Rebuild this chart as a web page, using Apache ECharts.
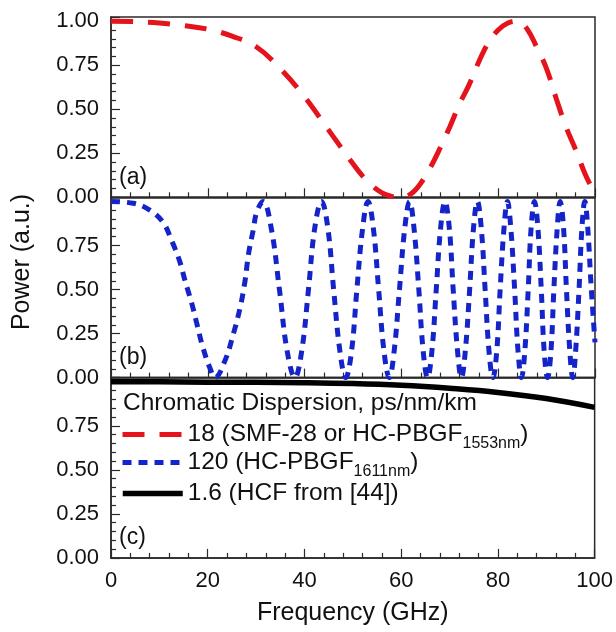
<!DOCTYPE html>
<html><head><meta charset="utf-8">
<script src="https://cdn.jsdelivr.net/npm/echarts@6/dist/echarts.min.js"></script>
<style>html,body{margin:0;padding:0;background:#fff}#c{width:616px;height:632px}</style>
</head><body><div id="c"></div>
<script>
// ---------- data ----------
const xTickValues = [0, 20, 40, 60, 80, 100];
const yTickValues = [0, 0.25, 0.5, 0.75, 1.0];

// (a) D = 18 ps/nm/km
const redFreq  = [0, 5, 10, 15, 20, 25, 30, 35, 40, 45, 50, 52, 54, 56, 58, 60, 62, 64, 66, 68, 70, 72, 74, 76, 78, 80, 82, 84, 86, 88, 90, 92, 94, 96, 98, 100];
const redPower = [1.0, 0.998, 0.99, 0.975, 0.955, 0.915, 0.855, 0.73, 0.57, 0.38, 0.19, 0.12, 0.065, 0.025, 0.005, 0.0, 0.02, 0.08, 0.17, 0.28, 0.40, 0.53, 0.64, 0.77, 0.88, 0.95, 0.99, 1.0, 0.955, 0.85, 0.73, 0.56, 0.40, 0.27, 0.13, 0.02];

// (b) D = 120 ps/nm/km
const blueFreq = [0, 4.6, 8.1, 10.8, 12.5, 14.2, 15.3, 16.7, 17.7, 19.0, 20.5, 21.5,
  23.6, 25.3, 26.7, 27.7, 28.4, 29.4, 30.1, 31.4,
  33.1, 34.8, 36.4, 38.0, 39.4, 40.8, 42.1, 43.5,
  44.8, 46.0, 47.3, 48.5, 49.7, 50.8, 52.0, 53.1,
  54.2, 55.3, 56.4, 57.5, 58.5, 59.6, 60.7, 61.7,
  62.6, 63.6, 64.5, 65.4, 66.3, 67.2, 68.1, 69.0,
  69.9, 70.7, 71.6, 72.4, 73.2, 74.1, 74.9, 75.7,
  76.5, 77.3, 78.1, 78.9, 79.7, 80.4, 81.2, 81.9,
  82.6, 83.4, 84.1, 84.8, 85.5, 86.2, 86.8, 87.5,
  88.2, 88.9, 89.5, 90.2, 90.9, 91.5, 92.2, 92.8,
  93.5, 94.1, 94.8, 95.4, 96.0, 96.7, 97.3, 97.9,
  98.5, 99.2, 100];
const bluePower = [1.0, 0.99, 0.95, 0.88, 0.78, 0.66, 0.55, 0.42, 0.31, 0.17, 0.05, 0.0,
  0.10, 0.25, 0.40, 0.55, 0.70, 0.84, 0.94, 1.0,
  0.85, 0.5, 0.15, 0.0, 0.15, 0.5, 0.85, 1.0,
  0.85, 0.5, 0.15, 0.0, 0.15, 0.5, 0.85, 1.0,
  0.85, 0.5, 0.15, 0.0, 0.15, 0.5, 0.85, 1.0,
  0.85, 0.5, 0.15, 0.0, 0.15, 0.5, 0.85, 1.0,
  0.85, 0.5, 0.15, 0.0, 0.15, 0.5, 0.85, 1.0,
  0.85, 0.5, 0.15, 0.0, 0.15, 0.5, 0.85, 1.0,
  0.85, 0.5, 0.15, 0.0, 0.15, 0.5, 0.85, 1.0,
  0.85, 0.5, 0.15, 0.0, 0.15, 0.5, 0.85, 1.0,
  0.85, 0.5, 0.15, 0.0, 0.15, 0.5, 0.85, 1.0,
  0.85, 0.52, 0.2];

// (c) D = 1.6 ps/nm/km
const blackFreq  = [0, 10, 20, 30, 40, 50, 60, 70, 80, 90, 100];
const blackPower = [1.0, 0.9999, 0.998, 0.997, 0.995, 0.99, 0.98, 0.963, 0.94, 0.905, 0.855];

const seriesNames = ['18 (SMF-28 or HC-PBGF1553nm)', '120 (HC-PBGF1611nm)', '1.6 (HCF from [44])'];
const legendRich = {
  '18 (SMF-28 or HC-PBGF1553nm)': '{m|18 (SMF-28 or HC-PBGF}{s|1553nm}{m|)}',
  '120 (HC-PBGF1611nm)': '{m|120 (HC-PBGF}{s|1611nm}{m|)}',
  '1.6 (HCF from [44])': '{m|1.6 (HCF from [44])}'
};
const legendTitle = 'Chromatic Dispersion, ps/nm/km';
const panelLabels = ['(a)', '(b)', '(c)'];
const xName = 'Frequency (GHz)';
const yName = 'Power (a.u.)';

// ---------- chart ----------
const FONT = "'Liberation Sans', Arial, sans-serif";
const TXT = '#111';
const AX = '#2a2a2a';
const GT = 17, GH = 180.3, GL = 111, GW = 484;
const YMAX = 1.024;
const colors = ['#e5141c', '#1424c8', '#000000'];
const lineTypes = [[22, 15], [9, 7], 'solid'];
const lineWidths = [5, 5, 5.5];

const zip = (a, b) => a.map((v, i) => [v, b[i]]);

const grids = [0, 1, 2].map(i => ({
  left: GL, width: GW, top: GT + i * GH, height: GH,
  show: true, borderColor: AX, borderWidth: 1.5, backgroundColor: 'transparent'
}));

const xAxes = [0, 1, 2].map(i => ({
  gridIndex: i, type: 'value', min: xTickValues[0], max: xTickValues[xTickValues.length - 1],
  interval: xTickValues[1] - xTickValues[0],
  axisLine: { show: true, lineStyle: { color: AX, width: 1.5 } },
  axisTick: { show: true, inside: true, length: 9, lineStyle: { color: AX, width: 1.2 } },
  minorTick: { show: true, splitNumber: 5, length: 5, lineStyle: { color: AX, width: 1.2 } },
  splitLine: { show: false },
  axisLabel: { show: i === 2, fontSize: 22, color: TXT, fontFamily: FONT, margin: 12 },
  name: i === 2 ? xName : '', nameLocation: 'middle', nameGap: 43,
  nameTextStyle: { fontSize: 25, color: TXT, fontFamily: FONT }
}));

const yAxes = [0, 1, 2].map(i => ({
  gridIndex: i, type: 'value', min: 0, max: YMAX, interval: yTickValues[1] - yTickValues[0],
  axisLine: { show: true, lineStyle: { color: AX, width: 1.5 } },
  axisTick: { show: true, inside: true, length: 9, lineStyle: { color: AX, width: 1.2 } },
  minorTick: { show: true, splitNumber: 5, length: 5, lineStyle: { color: AX, width: 1.2 } },
  splitLine: { show: false },
  axisLabel: {
    fontSize: 22, color: TXT, fontFamily: FONT, margin: 12,
    formatter: v => {
      const hit = yTickValues.find(t => Math.abs(t - v) < 1e-6);
      if (hit === undefined) return '';
      if (i > 0 && hit === 1.0) return '';
      return hit.toFixed(2);
    }
  }
}));

const seriesData = [zip(redFreq, redPower), zip(blueFreq, bluePower), zip(blackFreq, blackPower)];
const series = seriesNames.map((n, i) => ({
  name: n, type: 'line', xAxisIndex: i, yAxisIndex: i, data: seriesData[i],
  smooth: 0.4, symbol: 'none',
  lineStyle: { color: colors[i], width: lineWidths[i], type: lineTypes[i], cap: 'butt' },
  itemStyle: { color: colors[i] }
}));

const legendTops = [422, 450, 481];
const legends = seriesNames.map((n, i) => ({
  data: [n], orient: 'vertical', left: 120, top: legendTops[i], padding: 0,
  itemWidth: 60, itemHeight: 14, selectedMode: false,
  itemStyle: { opacity: 0, borderWidth: 0, color: 'rgba(0,0,0,0)' },
  lineStyle: { color: colors[i], width: lineWidths[i], type: lineTypes[i], opacity: 1, cap: 'butt' },
  formatter: name => legendRich[name],
  textStyle: {
    color: TXT, fontFamily: FONT,
    rich: {
      m: { fontSize: 24.5, color: TXT, fontFamily: FONT },
      s: { fontSize: 16, color: TXT, fontFamily: FONT, padding: [18, 0, 0, 0] }
    }
  }
}));

const graphics = [
  { type: 'text', x: 123, y: 403, style: { text: legendTitle, fontSize: 24.5, fontFamily: FONT, fill: TXT, align: 'left', verticalAlign: 'middle' } },
  { type: 'text', x: 22, y: 262, rotation: Math.PI / 2, style: { text: yName, fontSize: 25, fontFamily: FONT, fill: TXT, align: 'center', verticalAlign: 'middle' } }
].concat(panelLabels.map((t, i) => ({
  type: 'text', x: 119, y: GT + (i + 1) * GH - 20, style: { text: t, fontSize: 23, fontFamily: FONT, fill: TXT, align: 'left', verticalAlign: 'middle' }
})));

const chart = echarts.init(document.getElementById('c'), null, { renderer: 'canvas' });
chart.setOption({
  animation: false,
  backgroundColor: '#fff',
  grid: grids, xAxis: xAxes, yAxis: yAxes, series: series,
  legend: legends, graphic: graphics
});
</script></body></html>
